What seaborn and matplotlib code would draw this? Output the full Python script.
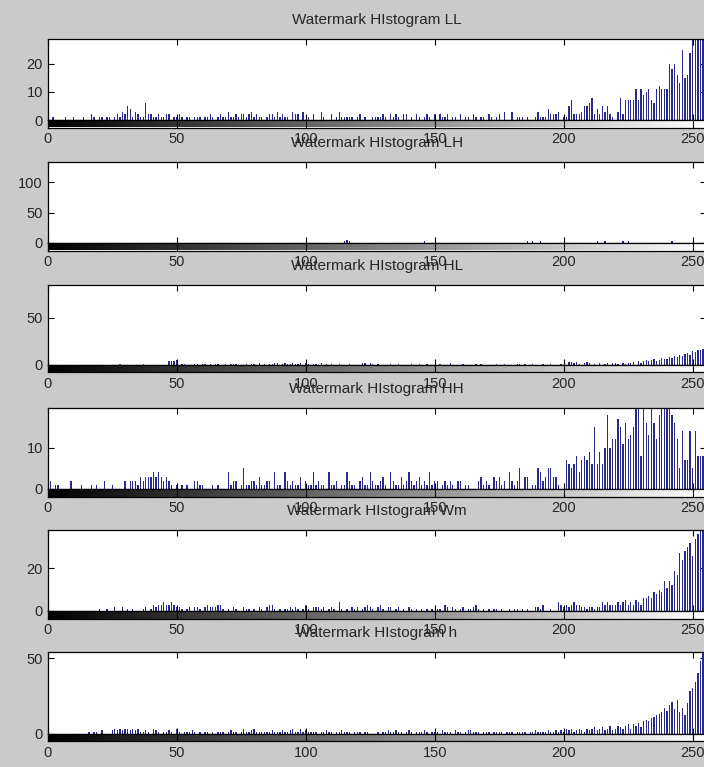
import numpy as np
import matplotlib
matplotlib.use("Agg")
import matplotlib.pyplot as plt
import seaborn as sns

# grey levels 0..255 of the image histograms
levels = np.arange(256)

titles = ["Watermark HIstogram LL", "Watermark HIstogram LH", "Watermark HIstogram HL",
          "Watermark HIstogram HH", "Watermark HIstogram Wm", "Watermark HIstogram h"]

ll_counts = [
    0, 0, 1, 0, 0, 0, 0, 1, 0, 0, 1, 0, 0, 0, 1, 0,
    0, 2, 1, 0, 1, 1, 0, 1, 1, 0, 1, 2, 1, 3, 2, 5,
    4, 1, 3, 2, 1, 1, 6, 2, 2, 1, 1, 2, 1, 1, 2, 2,
    0, 1, 1, 2, 1, 0, 1, 1, 0, 1, 1, 1, 0, 1, 1, 2,
    1, 0, 1, 2, 1, 1, 3, 1, 1, 2, 1, 2, 2, 1, 2, 3,
    1, 2, 1, 1, 0, 1, 2, 2, 1, 3, 1, 2, 1, 1, 0, 3,
    2, 2, 0, 3, 0, 1, 0, 2, 0, 0, 3, 1, 0, 0, 2, 0,
    1, 3, 1, 1, 1, 1, 1, 0, 1, 2, 0, 1, 0, 0, 1, 1,
    1, 1, 2, 1, 0, 2, 1, 2, 1, 0, 2, 2, 0, 1, 0, 2,
    1, 0, 1, 2, 1, 0, 2, 0, 2, 1, 1, 2, 0, 1, 1, 0,
    2, 0, 1, 1, 0, 2, 1, 0, 1, 1, 0, 2, 1, 0, 1, 2,
    0, 3, 0, 0, 3, 0, 1, 1, 1, 0, 1, 0, 0, 1, 3, 1,
    1, 1, 4, 2, 2, 2, 3, 0, 1, 1, 5, 7, 2, 2, 2, 3,
    5, 5, 6, 8, 2, 4, 2, 5, 3, 5, 2, 1, 0, 3, 8, 2,
    7, 7, 7, 7, 11, 7, 11, 9, 10, 11, 7, 6, 11, 12, 11, 11,
    11, 20, 18, 20, 16, 13, 25, 15, 16, 24, 35, 40, 45, 40, 50, 60,
]

lh_counts = [
    0, 0, 0, 0, 0, 0, 0, 0, 0, 0, 0, 0, 0, 0, 0, 0,
    0, 0, 0, 0, 0, 0, 0, 0, 0, 0, 0, 0, 0, 0, 0, 0,
    0, 0, 0, 0, 0, 0, 0, 0, 0, 0, 0, 0, 0, 0, 0, 0,
    0, 0, 0, 0, 0, 0, 0, 0, 0, 0, 0, 0, 0, 0, 0, 0,
    0, 0, 0, 0, 0, 0, 0, 0, 0, 0, 0, 0, 0, 0, 0, 0,
    0, 0, 0, 0, 0, 0, 0, 0, 0, 0, 0, 0, 0, 0, 0, 0,
    0, 0, 0, 0, 0, 0, 0, 0, 0, 0, 0, 0, 0, 0, 0, 0,
    0, 0, 0, 4, 5, 4, 0, 0, 0, 0, 0, 0, 0, 0, 0, 0,
    0, 0, 0, 0, 0, 0, 0, 0, 0, 0, 0, 0, 0, 0, 0, 0,
    0, 0, 4, 0, 0, 0, 0, 0, 0, 0, 0, 0, 0, 0, 0, 0,
    0, 0, 0, 0, 0, 0, 0, 0, 0, 0, 0, 0, 0, 0, 0, 0,
    0, 0, 0, 0, 0, 0, 0, 0, 0, 0, 3, 0, 3, 0, 0, 3,
    0, 0, 0, 0, 0, 0, 0, 0, 0, 0, 0, 0, 0, 0, 0, 0,
    0, 0, 0, 0, 0, 3, 0, 0, 3, 0, 0, 0, 0, 0, 0, 3,
    0, 3, 0, 0, 0, 0, 0, 0, 0, 0, 0, 0, 0, 0, 0, 0,
    0, 0, 4, 0, 0, 0, 0, 0, 0, 0, 0, 0, 0, 0, 0, 0,
]

hl_counts = [
    0, 0, 0, 0, 0, 0, 0, 0, 0, 0, 0, 0, 0, 0, 0, 0,
    0, 0, 0, 0, 0, 0, 0, 0, 0, 0, 0, 0, 1, 0, 0, 0,
    0, 0, 0, 0, 0, 1, 0, 0, 0, 0, 0, 0, 0, 0, 0, 4,
    4, 4, 5, 0, 1, 1, 0, 0, 0, 1, 1, 0, 1, 1, 0, 1,
    0, 1, 1, 0, 0, 1, 0, 1, 1, 1, 0, 0, 0, 1, 0, 1,
    1, 0, 2, 0, 1, 0, 1, 1, 2, 2, 0, 1, 2, 1, 1, 2,
    1, 1, 2, 0, 2, 1, 0, 1, 1, 0, 2, 0, 1, 0, 1, 0,
    0, 1, 0, 0, 0, 1, 0, 0, 0, 0, 2, 2, 0, 2, 1, 0,
    1, 0, 0, 0, 0, 1, 0, 0, 1, 0, 0, 0, 0, 1, 0, 0,
    1, 0, 0, 1, 0, 0, 0, 0, 1, 0, 0, 0, 2, 0, 0, 0,
    0, 1, 0, 0, 0, 0, 1, 0, 1, 0, 0, 0, 0, 0, 1, 0,
    0, 1, 0, 0, 0, 0, 1, 1, 0, 1, 0, 0, 1, 0, 0, 0,
    1, 0, 0, 1, 0, 0, 0, 1, 0, 0, 3, 3, 2, 3, 1, 0,
    2, 3, 2, 0, 1, 0, 2, 0, 1, 2, 0, 2, 2, 1, 0, 2,
    1, 2, 2, 3, 0, 4, 2, 4, 5, 4, 5, 6, 4, 5, 7, 6,
    6, 8, 7, 9, 8, 10, 9, 11, 12, 10, 14, 13, 15, 16, 17, 18,
]

hh_counts = [
    0, 2, 0, 1, 1, 0, 0, 0, 0, 2, 0, 0, 0, 1, 0, 0,
    0, 1, 0, 1, 0, 0, 2, 0, 0, 1, 0, 0, 0, 0, 2, 0,
    2, 2, 2, 1, 3, 2, 3, 3, 3, 4, 3, 4, 3, 2, 3, 2,
    1, 0, 1, 0, 1, 0, 1, 0, 0, 2, 2, 1, 1, 0, 0, 0,
    1, 0, 1, 0, 0, 0, 4, 1, 2, 2, 0, 1, 5, 1, 1, 2,
    2, 1, 3, 1, 1, 2, 2, 0, 4, 1, 1, 0, 4, 2, 1, 2,
    1, 1, 3, 0, 2, 1, 1, 4, 1, 2, 1, 1, 0, 4, 1, 1,
    2, 0, 1, 1, 4, 2, 1, 1, 0, 2, 3, 1, 1, 4, 2, 1,
    1, 2, 3, 1, 0, 4, 2, 1, 1, 3, 1, 2, 4, 2, 1, 2,
    3, 1, 2, 1, 4, 1, 2, 2, 0, 1, 2, 1, 2, 1, 0, 2,
    2, 0, 1, 1, 0, 0, 0, 2, 3, 1, 2, 1, 0, 3, 2, 3,
    1, 2, 0, 4, 2, 1, 2, 5, 0, 3, 3, 0, 1, 1, 5, 4,
    2, 3, 5, 5, 3, 3, 1, 0, 0, 7, 6, 5, 6, 8, 4, 7,
    8, 7, 9, 6, 15, 6, 9, 6, 10, 18, 10, 12, 12, 17, 15, 11,
    16, 12, 13, 15, 22, 22, 8, 22, 16, 13, 22, 16, 12, 18, 22, 22,
    22, 22, 18, 16, 12, 5, 14, 7, 7, 14, 5, 14, 8, 8, 8, 8,
]

wm_counts = [
    0, 0, 0, 0, 0, 0, 0, 0, 0, 0, 0, 0, 0, 0, 0, 0,
    0, 0, 0, 0, 1, 0, 0, 1, 0, 0, 2, 0, 0, 2, 0, 1,
    0, 1, 0, 0, 0, 1, 2, 0, 1, 3, 2, 3, 3, 4, 3, 3,
    4, 3, 2, 2, 1, 0, 1, 2, 0, 2, 2, 1, 0, 2, 3, 2,
    2, 2, 3, 3, 1, 0, 1, 0, 2, 1, 0, 0, 2, 1, 1, 0,
    1, 0, 2, 1, 0, 2, 3, 3, 1, 0, 1, 0, 1, 1, 2, 1,
    2, 1, 0, 1, 3, 1, 0, 2, 2, 2, 1, 2, 0, 1, 2, 1,
    0, 4, 1, 0, 1, 0, 2, 1, 2, 0, 1, 2, 3, 2, 1, 0,
    2, 3, 1, 0, 2, 2, 0, 1, 2, 0, 1, 0, 2, 1, 0, 1,
    0, 1, 0, 1, 0, 1, 0, 1, 1, 0, 3, 2, 0, 2, 1, 0,
    1, 2, 0, 1, 1, 2, 3, 1, 0, 1, 0, 1, 0, 1, 1, 0,
    1, 0, 0, 1, 0, 1, 1, 0, 1, 0, 1, 0, 0, 2, 2, 1,
    3, 0, 0, 1, 0, 0, 4, 3, 2, 3, 2, 3, 4, 3, 3, 2,
    2, 1, 2, 2, 1, 2, 2, 4, 3, 4, 3, 3, 3, 4, 3, 4,
    5, 3, 4, 3, 5, 4, 3, 6, 6, 7, 6, 9, 8, 10, 9, 14,
    11, 14, 12, 19, 17, 27, 24, 28, 30, 32, 26, 34, 36, 38, 38, 38,
]

h_counts = [
    0, 0, 0, 0, 0, 0, 0, 0, 0, 0, 0, 0, 0, 0, 0, 0,
    1, 0, 1, 1, 0, 2, 0, 0, 0, 2, 3, 2, 3, 2, 3, 3,
    2, 3, 2, 3, 1, 1, 2, 1, 0, 3, 2, 1, 0, 1, 1, 2,
    1, 0, 3, 1, 0, 1, 1, 1, 2, 1, 0, 1, 0, 1, 1, 0,
    1, 0, 1, 1, 1, 0, 1, 2, 1, 1, 0, 1, 3, 1, 1, 2,
    3, 1, 1, 1, 1, 1, 1, 2, 1, 1, 1, 2, 1, 1, 2, 3,
    1, 1, 3, 1, 2, 1, 1, 1, 1, 0, 1, 1, 2, 1, 1, 0,
    1, 1, 2, 1, 1, 1, 0, 1, 1, 1, 0, 1, 1, 0, 0, 0,
    1, 0, 1, 1, 2, 1, 1, 2, 1, 1, 0, 1, 2, 1, 0, 1,
    1, 1, 2, 1, 0, 1, 1, 1, 0, 2, 1, 1, 1, 0, 2, 1,
    1, 0, 1, 2, 2, 1, 1, 1, 0, 1, 1, 1, 0, 1, 1, 1,
    1, 0, 1, 1, 1, 0, 1, 1, 1, 1, 0, 1, 1, 2, 1, 1,
    1, 1, 2, 1, 1, 2, 1, 2, 1, 3, 2, 3, 1, 2, 3, 2,
    1, 3, 2, 3, 4, 2, 3, 4, 2, 3, 5, 2, 3, 5, 4, 3,
    5, 6, 3, 6, 5, 7, 4, 8, 9, 8, 10, 11, 12, 13, 14, 17,
    15, 19, 21, 16, 22, 14, 17, 12, 20, 28, 30, 34, 40, 48, 55, 60,
]

all_counts = [ll_counts, lh_counts, hl_counts, hh_counts, wm_counts, h_counts]
y_max = [28.8, 133, 85, 19.6, 38, 54]
y_ticks = [[0, 10, 20], [0, 50, 100], [0, 50], [0, 10], [0, 20], [0, 50]]
x_ticks = [0, 50, 100, 150, 200, 250]

sns.set_style("white")
plt.rcParams['font.family'] = ['Liberation Sans', 'DejaVu Sans']
plt.rcParams['font.size'] = 10.5

bg = '#cacaca'
bar_color = '#2a2a8c'

W, H = 704, 767
fig = plt.figure(figsize=(W / 100, H / 100), dpi=100, facecolor=bg)

left, right = 47.7, 705.6
tops = [39, 162, 285, 408, 530, 652]
bases = [120, 243, 364.5, 489, 611, 733.5]
cb_h = 7.5
gradient = np.linspace(0, 1, 256)[None, :]

for i in range(6):
    ax = fig.add_axes([left / W, 1 - bases[i] / H, (right - left) / W, (bases[i] - tops[i]) / H])
    sns.histplot(x=levels, weights=all_counts[i], discrete=True, shrink=0.5,
                 color=bar_color, alpha=1, linewidth=0, ax=ax)
    ax.set_facecolor('white')
    ax.set_xlim(0, 255)
    ax.set_ylim(0, y_max[i])
    ax.set_xticks(x_ticks)
    ax.set_xticklabels([])
    ax.set_yticks(y_ticks[i])
    ax.set_xlabel('')
    ax.set_ylabel('')
    ax.tick_params(direction='in', top=True, bottom=True, left=True, right=True,
                   length=4.5, width=0.8, color='black', labelsize=10.5, pad=3.5)
    for s in ax.spines.values():
        s.set_color('black')
        s.set_linewidth(0.9)
    ax.set_title(titles[i], fontsize=11, pad=10.5)

    # grey-level colour strip under each histogram
    cax = fig.add_axes([left / W, 1 - (bases[i] + cb_h) / H, (right - left) / W, cb_h / H])
    cax.imshow(gradient, cmap='gray', aspect='auto', extent=[0, 255, 0, 1])
    cax.set_xlim(0, 255)
    cax.set_yticks([])
    cax.set_xticks(x_ticks)
    cax.set_xticklabels([str(t) for t in x_ticks])
    cax.tick_params(direction='in', top=True, bottom=True, length=3, width=0.8,
                    color='black', labelsize=10.5, pad=3.5)
    for s in cax.spines.values():
        s.set_color('black')
        s.set_linewidth(0.9)

fig.savefig('out.png', dpi=100, facecolor=bg)
